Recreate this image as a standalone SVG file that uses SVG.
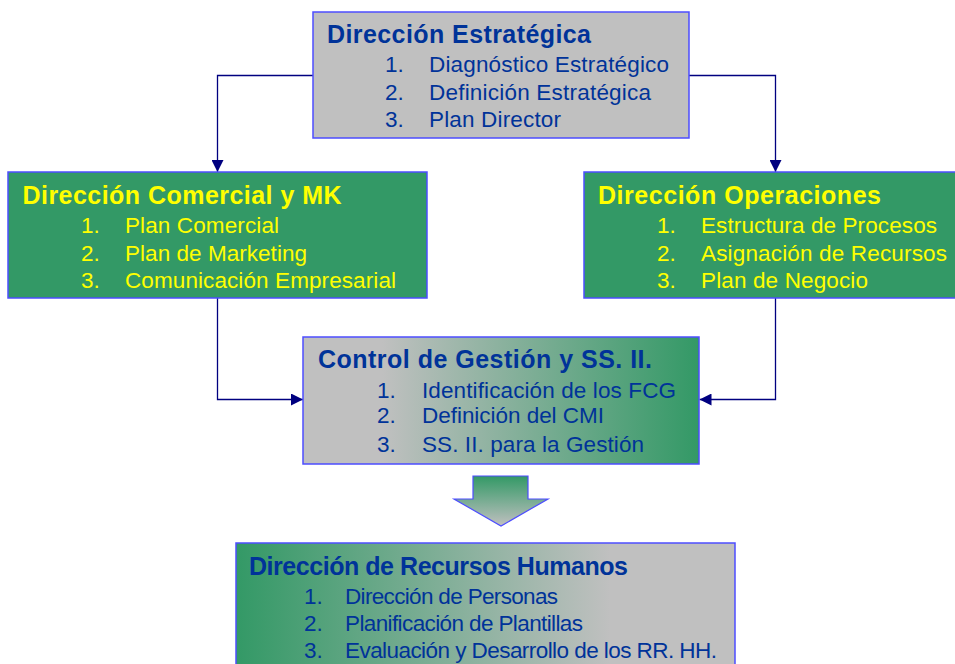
<svg xmlns="http://www.w3.org/2000/svg" width="955" height="664" viewBox="0 0 955 664">
<defs>
<style>
.box{stroke:#4d4dff;stroke-width:1.5}
.t{font-family:"Liberation Sans",Arial,sans-serif;font-size:25px;font-weight:bold}
.i{font-family:"Liberation Sans",Arial,sans-serif;font-size:22.5px}
.blue{fill:#003399}
.yel{fill:#ffff00}
.con{fill:none;stroke:#000080;stroke-width:1.3}
</style>
<marker id="ah" viewBox="0 0 12 12" refX="12" refY="6" markerWidth="12" markerHeight="12" markerUnits="userSpaceOnUse" orient="auto">
<path d="M0,0 L12,6 L0,12 Z" fill="#000080"/>
</marker>
<linearGradient id="gMid" x1="0" y1="0" x2="1" y2="0">
<stop offset="0" stop-color="#c0c0c0"/><stop offset="0.2" stop-color="#c0c0c0"/><stop offset="1" stop-color="#339966"/>
</linearGradient>
<linearGradient id="gBot" x1="0" y1="0" x2="1" y2="0">
<stop offset="0" stop-color="#339966"/><stop offset="0.75" stop-color="#c0c0c0"/><stop offset="1" stop-color="#c0c0c0"/>
</linearGradient>
<linearGradient id="gArr" x1="0" y1="0" x2="0" y2="1">
<stop offset="0" stop-color="#339966"/><stop offset="1" stop-color="#c0c0c0"/>
</linearGradient>
</defs>
<rect width="955" height="664" fill="#ffffff"/>
<g id="connectors">
<path class="con" d="M313,75.5 H217.5 V172" marker-end="url(#ah)"/>
<path class="con" d="M689,75.5 H775.5 V172" marker-end="url(#ah)"/>
<path class="con" d="M217.5,298 V399.5 H303" marker-end="url(#ah)"/>
<path class="con" d="M775.5,298 V399.5 H699.5" marker-end="url(#ah)"/>
</g>
<g id="estrategica">
<rect class="box" x="313" y="12" width="376" height="126" fill="#c0c0c0"/>
<text class="t blue" x="327" y="43" textLength="264" lengthAdjust="spacing">Dirección Estratégica</text>
<text class="i blue" x="385" y="72">1.</text><text class="i blue" x="429" y="72" textLength="240" lengthAdjust="spacing">Diagnóstico Estratégico</text>
<text class="i blue" x="385" y="100">2.</text><text class="i blue" x="429" y="100" textLength="222" lengthAdjust="spacing">Definición Estratégica</text>
<text class="i blue" x="385" y="127">3.</text><text class="i blue" x="429" y="127" textLength="132" lengthAdjust="spacing">Plan Director</text>
</g>
<g id="comercial">
<rect class="box" x="8" y="172" width="419" height="126" fill="#339966"/>
<text class="t yel" x="22.5" y="204" textLength="319" lengthAdjust="spacing">Dirección Comercial y MK</text>
<text class="i yel" x="81" y="233">1.</text><text class="i yel" x="125" y="233" textLength="154" lengthAdjust="spacing">Plan Comercial</text>
<text class="i yel" x="81" y="261">2.</text><text class="i yel" x="125" y="261" textLength="182" lengthAdjust="spacing">Plan de Marketing</text>
<text class="i yel" x="81" y="288">3.</text><text class="i yel" x="125" y="288" textLength="271" lengthAdjust="spacing">Comunicación Empresarial</text>
</g>
<g id="operaciones">
<rect class="box" x="584" y="172" width="380" height="126" fill="#339966"/>
<text class="t yel" x="598" y="204" textLength="283" lengthAdjust="spacing">Dirección Operaciones</text>
<text class="i yel" x="657" y="233">1.</text><text class="i yel" x="701" y="233" textLength="236" lengthAdjust="spacing">Estructura de Procesos</text>
<text class="i yel" x="657" y="261">2.</text><text class="i yel" x="701" y="261" textLength="246" lengthAdjust="spacing">Asignación de Recursos</text>
<text class="i yel" x="657" y="288">3.</text><text class="i yel" x="701" y="288" textLength="167" lengthAdjust="spacing">Plan de Negocio</text>
</g>
<g id="control">
<rect class="box" x="303" y="337" width="396" height="127" fill="url(#gMid)"/>
<text class="t blue" x="318" y="368" textLength="334" lengthAdjust="spacing">Control de Gestión y SS. II.</text>
<text class="i blue" x="377" y="398">1.</text><text class="i blue" x="422" y="398" textLength="254" lengthAdjust="spacing">Identificación de los FCG</text>
<text class="i blue" x="377" y="423">2.</text><text class="i blue" x="422" y="423" textLength="182" lengthAdjust="spacing">Definición del CMI</text>
<text class="i blue" x="377" y="452">3.</text><text class="i blue" x="422" y="452" textLength="222" lengthAdjust="spacing">SS. II. para la Gestión</text>
</g>
<g id="flecha">
<path d="M473,476 H528 V499 H548 L501,526 L454,499 H473 Z" fill="url(#gArr)" stroke="#4d4dff" stroke-width="1.2"/>
</g>
<g id="rrhh">
<rect class="box" x="236" y="543" width="499" height="130" fill="url(#gBot)"/>
<text class="t blue" x="249" y="575" textLength="379" lengthAdjust="spacing">Dirección de Recursos Humanos</text>
<text class="i blue" x="304" y="604">1.</text><text class="i blue" x="345" y="604" textLength="213" lengthAdjust="spacing">Dirección de Personas</text>
<text class="i blue" x="304" y="631">2.</text><text class="i blue" x="345" y="631" textLength="238" lengthAdjust="spacing">Planificación de Plantillas</text>
<text class="i blue" x="304" y="658">3.</text><text class="i blue" x="345" y="658" textLength="372" lengthAdjust="spacing">Evaluación y Desarrollo de los RR. HH.</text>
</g>
</svg>
